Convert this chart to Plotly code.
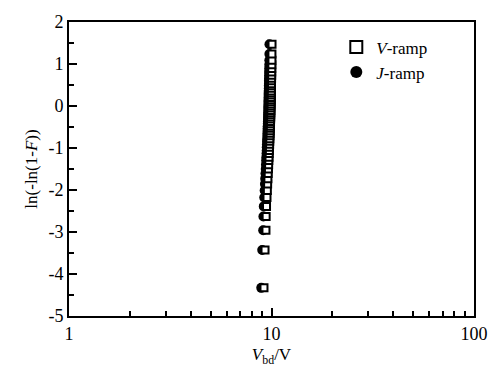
import plotly.graph_objects as go

# ---- data ----
v_ramp_vbd = [9.18, 9.29, 9.39, 9.41, 9.45, 9.50, 9.54, 9.57, 9.60, 9.63,
              9.66, 9.68, 9.70, 9.72, 9.74, 9.76, 9.77, 9.79, 9.80, 9.81,
              9.83, 9.84, 9.85, 9.86, 9.87, 9.88, 9.89, 9.90, 9.91, 9.91,
              9.92, 9.93, 9.93, 9.94, 9.95, 9.95, 9.96, 9.96, 9.97, 9.97,
              9.98, 9.99, 9.99, 10.00, 10.00, 10.01, 10.02, 10.02, 10.03, 10.04,
              10.05, 10.05, 10.06]
weibull_y = [-4.33, -3.43, -2.96, -2.63, -2.39, -2.18, -2.01, -1.86, -1.73, -1.61,
             -1.50, -1.40, -1.30, -1.22, -1.13, -1.06, -0.98, -0.91, -0.84, -0.78,
             -0.71, -0.65, -0.59, -0.53, -0.48, -0.42, -0.37, -0.31, -0.26, -0.21,
             -0.16, -0.11, -0.05, 0.00, 0.05, 0.10, 0.15, 0.20, 0.26, 0.31,
             0.36, 0.42, 0.48, 0.53, 0.60, 0.66, 0.73, 0.81, 0.89, 0.98,
             1.09, 1.24, 1.47]
j_ramp_vbd = [8.90, 9.00, 9.10, 9.12, 9.16, 9.21, 9.25, 9.28, 9.31, 9.34,
              9.37, 9.39, 9.41, 9.43, 9.45, 9.47, 9.48, 9.50, 9.51, 9.52,
              9.54, 9.55, 9.56, 9.57, 9.58, 9.59, 9.60, 9.61, 9.62, 9.62,
              9.63, 9.64, 9.64, 9.65, 9.66, 9.66, 9.67, 9.67, 9.68, 9.68,
              9.69, 9.70, 9.70, 9.71, 9.71, 9.72, 9.73, 9.73, 9.74, 9.75,
              9.76, 9.76, 9.77]

y_tickvals = [2, 1, 0, -1, -2, -3, -4, -5]
y_ticktext = ["2", "1", "0", "-1", "-2", "-3", "-4", "-5"]

FONT = "Liberation Serif, Times New Roman, serif"

fig = go.Figure()
fig.add_trace(go.Scatter(
    x=j_ramp_vbd, y=weibull_y, mode="markers", name="<i>J</i>-ramp",
    marker=dict(symbol="circle", size=10, color="black", line=dict(width=0)),
))
fig.add_trace(go.Scatter(
    x=v_ramp_vbd, y=weibull_y, mode="markers", name="<i>V</i>-ramp",
    marker=dict(symbol="square", size=7, color="white",
                line=dict(width=2, color="black")),
))

fig.update_layout(
    width=501, height=373,
    margin=dict(l=69, r=27, t=17, b=54),
    paper_bgcolor="white", plot_bgcolor="white",
    font=dict(family=FONT, size=18, color="black"),
    showlegend=True,
    legend=dict(x=0.66, y=0.975, xanchor="left", yanchor="top",
                traceorder="reversed", bgcolor="rgba(0,0,0,0)",
                font=dict(family=FONT, size=17, color="black"),
                itemsizing="constant", tracegroupgap=0, itemwidth=30),
    xaxis=dict(
        type="log", range=[0, 2],
        tickmode="linear", tick0=0, dtick=1,
        ticks="inside", ticklen=8, tickwidth=2, tickcolor="black",
        showline=True, linecolor="black", linewidth=2, mirror=True,
        showgrid=False, zeroline=False,
        minor=dict(dtick="D1", ticks="inside",
                   ticklen=5, tickwidth=2, tickcolor="black", showgrid=False),
        title=dict(text="<i>V</i><sub>bd</sub>/V", standoff=6,
                   font=dict(family=FONT, size=17)),
    ),
    yaxis=dict(
        range=[-5, 2],
        tickmode="array", tickvals=y_tickvals, ticktext=y_ticktext,
        ticks="inside", ticklen=8, tickwidth=2, tickcolor="black",
        showline=True, linecolor="black", linewidth=2, mirror=True,
        showgrid=False, zeroline=False,
        minor=dict(dtick=0.5, ticks="inside", ticklen=5, tickwidth=2,
                   tickcolor="black", showgrid=False),
        title=dict(text="ln(-ln(1-<i>F</i>))", standoff=6,
                   font=dict(family=FONT, size=17)),
    ),
)

fig.write_html("out.html")
